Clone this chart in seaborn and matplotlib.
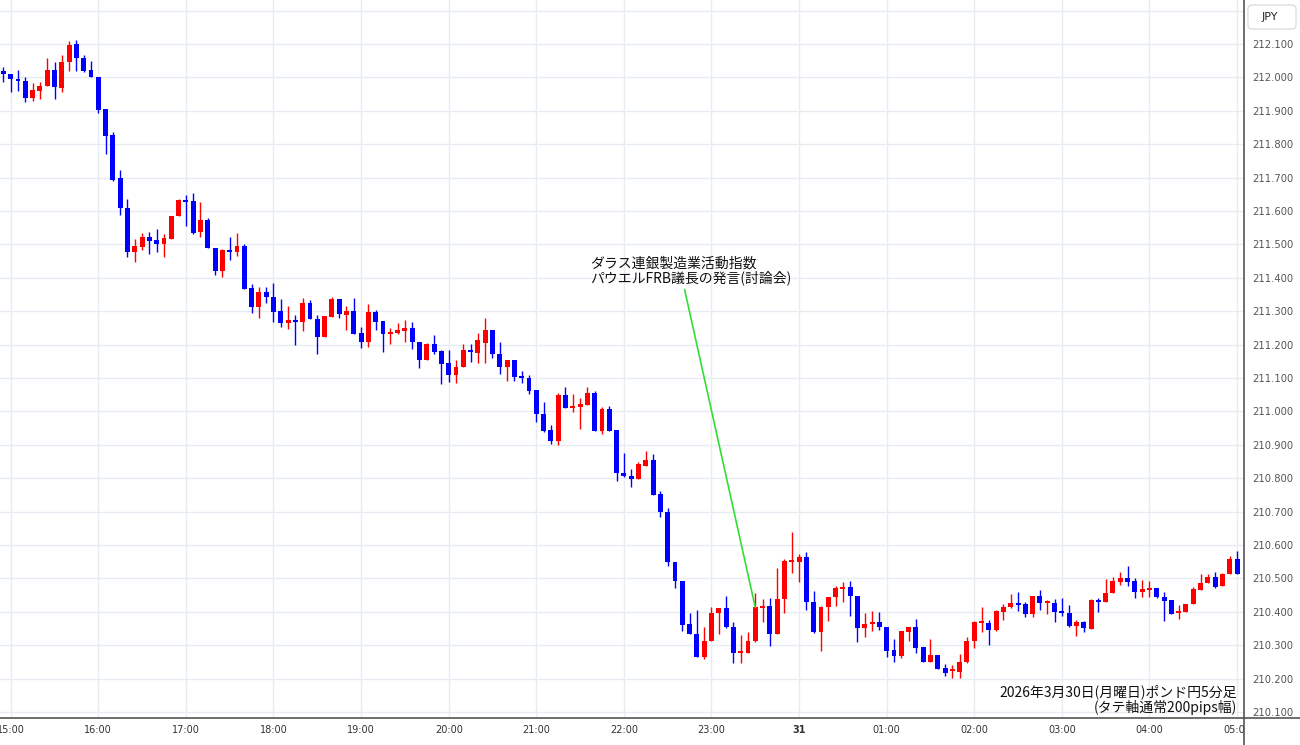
import matplotlib
matplotlib.use("Agg")
import matplotlib.pyplot as plt
import matplotlib.patches as mpatches
from matplotlib.lines import Line2D
from matplotlib.transforms import IdentityTransform
import numpy as np
import pandas as pd
import seaborn as sns

# GBP/JPY 5-minute candles, 2026-03-30 14:55 -> 2026-03-31 05:00
START = "2026-03-30 14:55"

opens = [
    212.020, 212.010, 211.995, 211.990, 211.937, 211.960, 211.974, 212.022, 211.969, 212.045,
    212.099, 212.059, 212.022, 212.002, 211.904, 211.828, 211.698, 211.608, 211.476, 211.493,
    211.521, 211.513, 211.500, 211.516, 211.585, 211.633, 211.630, 211.536, 211.573, 211.490,
    211.420, 211.483, 211.478, 211.495, 211.369, 211.312, 211.357, 211.343, 211.301, 211.264,
    211.274, 211.269, 211.325, 211.276, 211.224, 211.284, 211.337, 211.289, 211.302, 211.236,
    211.207, 211.297, 211.272, 211.231, 211.236, 211.242, 211.249, 211.209, 211.154, 211.201,
    211.182, 211.144, 211.109, 211.134, 211.184, 211.176, 211.204, 211.244, 211.172, 211.134,
    211.154, 211.106, 211.101, 211.064, 210.992, 210.944, 210.911, 211.049, 211.011, 211.014,
    211.019, 211.056, 210.942, 211.007, 210.944, 210.817, 210.808, 210.799, 210.837, 210.855,
    210.752, 210.700, 210.550, 210.493, 210.363, 210.334, 210.266, 210.313, 210.396, 210.410,
    210.355, 210.276, 210.278, 210.313, 210.412, 210.418, 210.333, 210.437, 210.550, 210.550,
    210.563, 210.430, 210.339, 210.413, 210.443, 210.468, 210.475, 210.448, 210.352, 210.363,
    210.370, 210.355, 210.286, 210.269, 210.340, 210.354, 210.294, 210.249, 210.271, 210.231,
    210.223, 210.221, 210.249, 210.313, 210.367, 210.367, 210.346, 210.400, 210.413, 210.427,
    210.423, 210.393, 210.447, 210.427, 210.427, 210.402, 210.396, 210.357, 210.369, 210.348,
    210.435, 210.428, 210.455, 210.490, 210.500, 210.493, 210.460, 210.468, 210.470, 210.445,
    210.435, 210.397, 210.398, 210.422, 210.465, 210.485, 210.503, 210.477, 210.512, 210.558,
]
closes = [
    212.010, 211.994, 211.989, 211.937, 211.962, 211.975, 212.022, 211.970, 212.047, 212.097,
    212.057, 212.020, 212.000, 211.902, 211.825, 211.693, 211.608, 211.476, 211.495, 211.521,
    211.511, 211.500, 211.518, 211.586, 211.633, 211.628, 211.535, 211.573, 211.488, 211.420,
    211.483, 211.478, 211.495, 211.366, 211.312, 211.357, 211.342, 211.297, 211.264, 211.274,
    211.269, 211.325, 211.276, 211.224, 211.287, 211.337, 211.291, 211.302, 211.232, 211.207,
    211.297, 211.269, 211.231, 211.239, 211.244, 211.249, 211.209, 211.154, 211.201, 211.177,
    211.142, 211.109, 211.134, 211.184, 211.177, 211.214, 211.244, 211.171, 211.134, 211.154,
    211.104, 211.099, 211.062, 210.991, 210.942, 210.911, 211.049, 211.011, 211.016, 211.021,
    211.056, 210.942, 211.007, 210.942, 210.815, 210.807, 210.799, 210.842, 210.855, 210.750,
    210.700, 210.548, 210.492, 210.360, 210.333, 210.266, 210.314, 210.397, 210.410, 210.355,
    210.276, 210.281, 210.314, 210.413, 210.418, 210.333, 210.438, 210.553, 210.553, 210.563,
    210.430, 210.339, 210.415, 210.443, 210.470, 210.475, 210.448, 210.352, 210.363, 210.370,
    210.355, 210.284, 210.269, 210.343, 210.354, 210.293, 210.249, 210.271, 210.230, 210.218,
    210.226, 210.251, 210.313, 210.369, 210.370, 210.346, 210.402, 210.415, 210.427, 210.422,
    210.393, 210.447, 210.427, 210.430, 210.400, 210.396, 210.357, 210.369, 210.351, 210.435,
    210.428, 210.455, 210.493, 210.500, 210.490, 210.460, 210.467, 210.470, 210.445, 210.433,
    210.393, 210.402, 210.422, 210.467, 210.487, 210.503, 210.475, 210.513, 210.558, 210.513,
]
highs = [
    212.030, 212.010, 212.022, 212.000, 211.982, 211.987, 212.057, 212.047, 212.067, 212.110,
    212.112, 212.067, 212.049, 212.002, 211.904, 211.837, 211.723, 211.635, 211.515, 211.533,
    211.536, 211.546, 211.531, 211.586, 211.635, 211.648, 211.655, 211.626, 211.578, 211.490,
    211.485, 211.521, 211.533, 211.501, 211.381, 211.372, 211.372, 211.384, 211.337, 211.317,
    211.289, 211.340, 211.334, 211.289, 211.287, 211.343, 211.337, 211.317, 211.339, 211.254,
    211.321, 211.304, 211.272, 211.249, 211.266, 211.274, 211.269, 211.209, 211.206, 211.229,
    211.184, 211.184, 211.154, 211.201, 211.201, 211.234, 211.279, 211.244, 211.207, 211.154,
    211.154, 211.122, 211.109, 211.064, 211.027, 210.959, 211.054, 211.072, 211.052, 211.039,
    211.074, 211.061, 211.012, 211.017, 210.944, 210.876, 210.828, 210.849, 210.882, 210.872,
    210.763, 210.712, 210.550, 210.493, 210.397, 210.405, 210.355, 210.415, 210.412, 210.448,
    210.369, 210.331, 210.339, 210.455, 210.437, 210.440, 210.532, 210.557, 210.638, 210.572,
    210.578, 210.463, 210.417, 210.445, 210.477, 210.488, 210.492, 210.448, 210.396, 210.402,
    210.400, 210.355, 210.319, 210.343, 210.354, 210.378, 210.294, 210.318, 210.271, 210.243,
    210.241, 210.273, 210.325, 210.372, 210.415, 210.375, 210.405, 210.423, 210.452, 210.458,
    210.428, 210.447, 210.465, 210.435, 210.437, 210.442, 210.420, 210.375, 210.372, 210.437,
    210.440, 210.498, 210.503, 210.520, 210.537, 210.500, 210.495, 210.492, 210.472, 210.458,
    210.435, 210.420, 210.422, 210.475, 210.513, 210.513, 210.518, 210.517, 210.568, 210.582,
]
lows = [
    211.987, 211.955, 211.960, 211.925, 211.929, 211.934, 211.974, 211.934, 211.957, 212.020,
    212.019, 212.015, 212.000, 211.894, 211.770, 211.691, 211.588, 211.463, 211.448, 211.483,
    211.470, 211.478, 211.463, 211.516, 211.585, 211.556, 211.530, 211.521, 211.488, 211.408,
    211.403, 211.453, 211.465, 211.366, 211.296, 211.279, 211.324, 211.269, 211.254, 211.247,
    211.199, 211.242, 211.276, 211.171, 211.224, 211.284, 211.279, 211.244, 211.232, 211.189,
    211.194, 211.244, 211.179, 211.201, 211.231, 211.209, 211.187, 211.129, 211.154, 211.172,
    211.082, 211.089, 211.084, 211.134, 211.147, 211.146, 211.146, 211.159, 211.111, 211.092,
    211.091, 211.084, 211.051, 210.967, 210.939, 210.901, 210.899, 211.009, 210.999, 210.946,
    211.019, 210.942, 210.931, 210.942, 210.792, 210.805, 210.775, 210.798, 210.837, 210.750,
    210.685, 210.537, 210.472, 210.343, 210.333, 210.266, 210.258, 210.313, 210.333, 210.352,
    210.248, 210.246, 210.278, 210.309, 210.370, 210.298, 210.333, 210.396, 210.515, 210.490,
    210.405, 210.336, 210.284, 210.372, 210.417, 210.428, 210.388, 210.309, 210.325, 210.343,
    210.346, 210.266, 210.251, 210.261, 210.313, 210.276, 210.249, 210.249, 210.229, 210.209,
    210.201, 210.201, 210.246, 210.293, 210.340, 210.301, 210.343, 210.375, 210.410, 210.402,
    210.384, 210.385, 210.405, 210.393, 210.369, 210.388, 210.354, 210.328, 210.339, 210.348,
    210.400, 210.428, 210.455, 210.480, 210.478, 210.440, 210.445, 210.443, 210.440, 210.372,
    210.393, 210.378, 210.398, 210.422, 210.465, 210.485, 210.472, 210.477, 210.512, 210.513,
]

hour_labels = ["15:00", "16:00", "17:00", "18:00", "19:00", "20:00", "21:00", "22:00",
               "23:00", "31", "01:00", "02:00", "03:00", "04:00", "05:00"]
price_ticks = [210.1, 210.2, 210.3, 210.4, 210.5, 210.6, 210.7, 210.8, 210.9, 211.0, 211.1,
               211.2, 211.3, 211.4, 211.5, 211.6, 211.7, 211.8, 211.9, 212.0, 212.1, 212.2]

EVENT_TEXT = "ダラス連銀製造業活動指数\nパウエルFRB議長の発言(討論会)"
EVENT_BAR = 103
TITLE_TEXT = "2026年3月30日(月曜日)ポンド円5分足\n(タテ軸通常200pips幅)"

UP, DOWN = "#ff0000", "#0000ff"
JP = ["Noto Sans CJK JP", "DejaVu Sans"]

df = pd.DataFrame({
    "time": pd.date_range(START, periods=len(opens), freq="5min"),
    "open": opens, "high": highs, "low": lows, "close": closes,
})
df["x"] = np.arange(len(df))
df["color"] = np.where(df["close"] >= df["open"], UP, DOWN)

# bodies: keep a minimum visible height for dojis
min_h = 0.006
mid = (df["open"] + df["close"]) / 2
height = (df["close"] - df["open"]).abs().clip(lower=min_h)
bottom = mid - height / 2

sns.set_theme(style="white")
plt.rcParams["font.family"] = ["DejaVu Sans", "Noto Sans CJK JP"]

W, H = 1300, 745
fig = plt.figure(figsize=(W / 100, H / 100), dpi=100)
fig.patch.set_facecolor("white")
ax = fig.add_axes([0, 27 / H, 1243.5 / W, 718 / H])
ax.set_facecolor("white")

ax.vlines(df["x"], df["low"], df["high"], colors=df["color"], linewidth=1.0, zorder=2)
ax.bar(df["x"], height, bottom=bottom, width=0.68, color=df["color"], linewidth=0, zorder=3)

ax.set_xlim(-0.466, 169.88)
ax.set_ylim(210.082, 212.2317)

hour_pos = df.loc[df["time"].dt.minute == 0, "x"].to_numpy()
ax.set_xticks(hour_pos)
ax.set_xticklabels(hour_labels)
for lab in ax.get_xticklabels():
    if lab.get_text() == "31":
        lab.set_fontweight("bold")

ax.yaxis.tick_right()
ax.set_yticks(price_ticks)
ax.set_yticklabels([f"{v:.3f}" if v < 212.15 else "" for v in price_ticks])

ax.tick_params(axis="x", length=0, pad=5, labelsize=7, labelcolor="#333333")
ax.tick_params(axis="y", length=0, pad=6, labelsize=7.2, labelcolor="#555555")
ax.grid(True, color="#e6ecf1", linewidth=1.0)
ax.set_axisbelow(True)
for s in ax.spines.values():
    s.set_visible(False)

# event annotation
ax.annotate(
    EVENT_TEXT, xy=(EVENT_BAR, closes[EVENT_BAR]), xycoords="data",
    xytext=(590 / 1243.5, 1 - 285 / 718), textcoords="axes fraction",
    ha="left", va="bottom", fontsize=10, family=JP, linespacing=1.0, color="#111111",
    arrowprops=dict(arrowstyle="-", color="#33dd33", lw=1.2,
                    relpos=(0.465, 0), shrinkA=1, shrinkB=0),
    zorder=5,
)

ax.text(1237 / 1243.5, 1 - 715 / 718, TITLE_TEXT, transform=ax.transAxes,
        ha="right", va="bottom", multialignment="right", fontsize=10, family=JP,
        linespacing=1.05, color="#111111", zorder=5)

# hide the part of the last time label that runs into the price scale
fig.add_artist(mpatches.Rectangle((1244.5 / W, 0), 1, 26 / H, transform=fig.transFigure,
                                  facecolor="white", edgecolor="none", zorder=5))
fig.add_artist(Line2D([1243.5 / W, 1243.5 / W], [0, 1], transform=fig.transFigure,
                      color="#555555", linewidth=1.2, zorder=6))
fig.add_artist(Line2D([0, 1], [27 / H, 27 / H], transform=fig.transFigure,
                      color="#555555", linewidth=1.2, zorder=6))

# currency box
fig.add_artist(mpatches.FancyBboxPatch((1248, H - 29), 48, 24,
                                       boxstyle="round,pad=0,rounding_size=4",
                                       transform=IdentityTransform(), facecolor="white",
                                       edgecolor="#dddddd", linewidth=1.0, zorder=6))
fig.text(1270 / W, 1 - 17 / H, "JPY", ha="center", va="center", fontsize=8,
         color="#222222", zorder=7)

fig.savefig("out.png", dpi=100)
